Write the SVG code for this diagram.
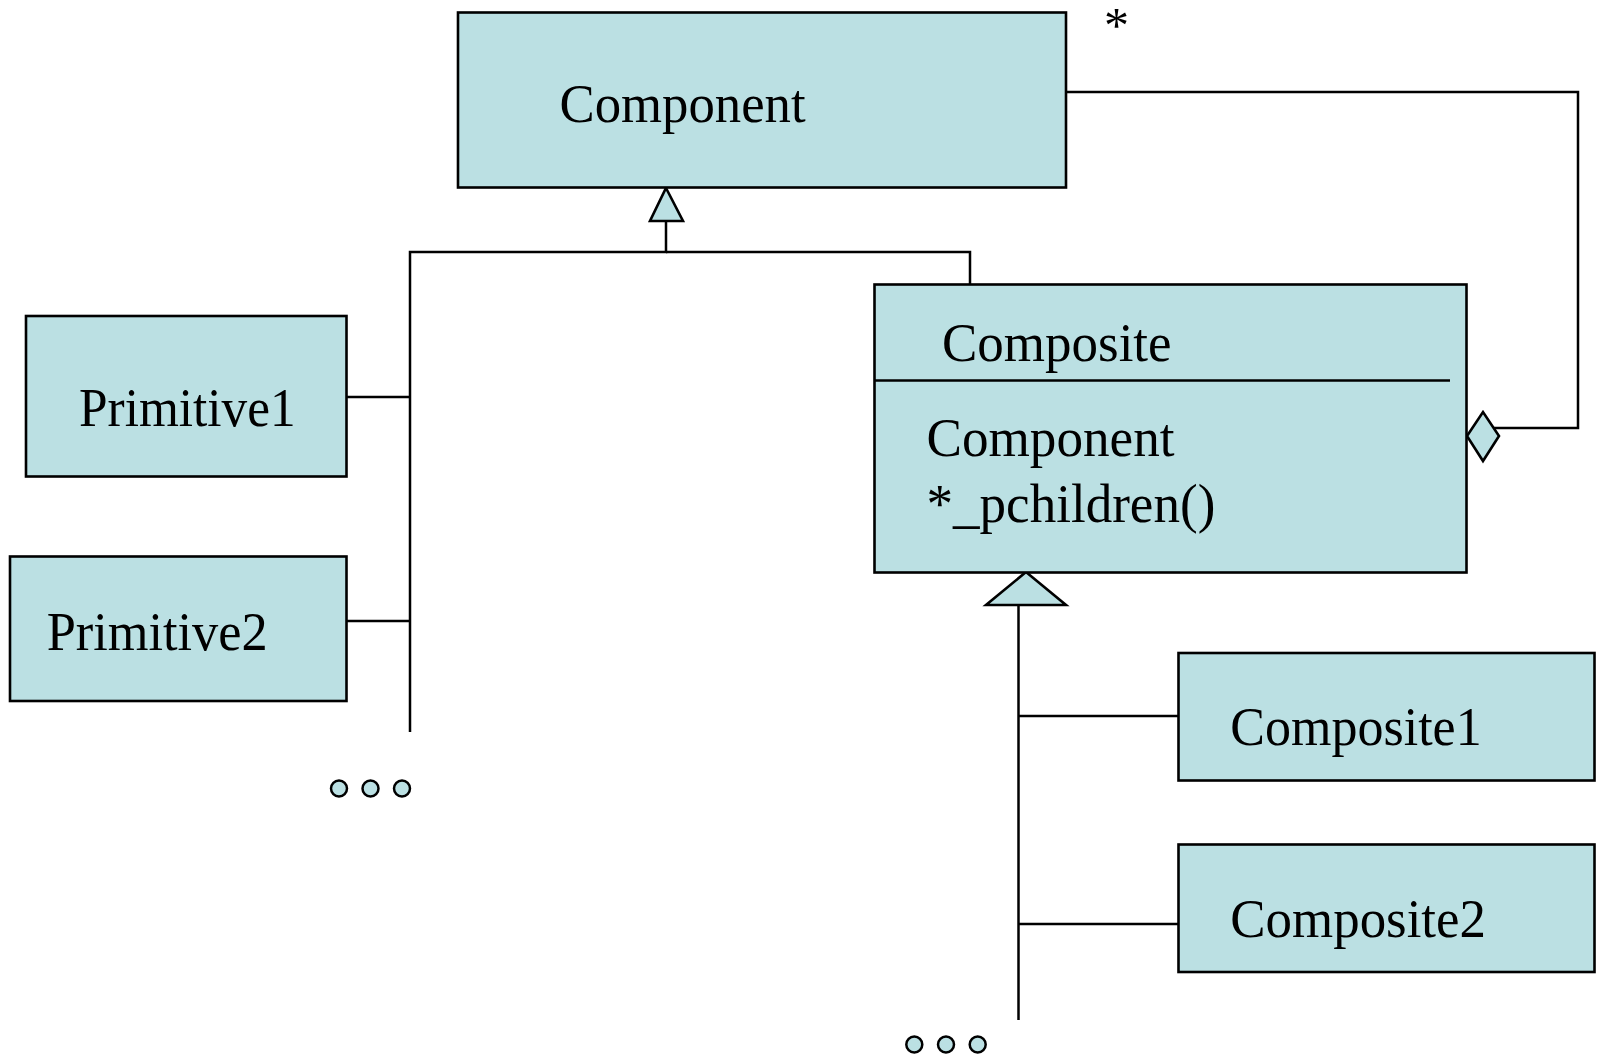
<svg xmlns="http://www.w3.org/2000/svg" width="1600" height="1054" viewBox="0 0 1600 1054">
<style>
.box{fill:#BBE0E3;stroke:#000;stroke-width:2.6}
.ln{fill:none;stroke:#000;stroke-width:2.5}
.t{font-family:"Liberation Serif","Times New Roman",serif;font-size:54px;fill:#000}
.dot{fill:#BBE0E3;stroke:#000;stroke-width:2.5}
</style>
<rect width="1600" height="1054" fill="#fff"/>
<g id="connectors">
<polyline class="ln" points="666,221 666,252 410,252 410,732"/>
<polyline class="ln" points="666,252 970,252 970,285"/>
<line class="ln" x1="346" y1="397" x2="410" y2="397"/>
<line class="ln" x1="346" y1="621" x2="410" y2="621"/>
<polygon class="box" points="666,188 683,221 650,221"/>
<polyline class="ln" points="1066,92 1578,92 1578,428 1494,428"/>
<polygon class="box" points="1467,436 1483,412 1499,436 1483,461"/>
<text class="t" x="1104" y="42" style="font-size:50px">*</text>
<line class="ln" x1="1018.5" y1="605" x2="1018.5" y2="1020"/>
<line class="ln" x1="1018.5" y1="716" x2="1178" y2="716"/>
<line class="ln" x1="1018.5" y1="924" x2="1178" y2="924"/>
<polygon class="box" points="1026,572 1066,605 986,605"/>
</g>
<g id="component">
<rect class="box" x="458" y="12.5" width="608" height="175"/>
<text class="t" x="559.6" y="121.7" textLength="246" lengthAdjust="spacingAndGlyphs">Component</text>
</g>
<g id="composite">
<rect class="box" x="874.5" y="284.5" width="592" height="288"/>
<line class="ln" x1="874.5" y1="380.5" x2="1450" y2="380.5"/>
<text class="t" x="942" y="361" textLength="229.6" lengthAdjust="spacingAndGlyphs">Composite</text>
<text class="t" x="926.5" y="456" textLength="248" lengthAdjust="spacingAndGlyphs">Component</text>
<text class="t" x="926.5" y="522" textLength="288.8" lengthAdjust="spacingAndGlyphs">*_pchildren()</text>
</g>
<g id="primitive1">
<rect class="box" x="26" y="316" width="320.5" height="160.5"/>
<text class="t" x="79" y="426" textLength="216.7" lengthAdjust="spacingAndGlyphs">Primitive1</text>
</g>
<g id="primitive2">
<rect class="box" x="10" y="556.5" width="336.5" height="144.5"/>
<text class="t" x="46.7" y="650" textLength="221" lengthAdjust="spacingAndGlyphs">Primitive2</text>
</g>
<g id="composite1">
<rect class="box" x="1178.5" y="653" width="416" height="127.5"/>
<text class="t" x="1230.3" y="745" textLength="251.4" lengthAdjust="spacingAndGlyphs">Composite1</text>
</g>
<g id="composite2">
<rect class="box" x="1178.5" y="844.5" width="416" height="127.5"/>
<text class="t" x="1230.3" y="937" textLength="255.7" lengthAdjust="spacingAndGlyphs">Composite2</text>
</g>
<g id="dots-left">
<ellipse class="dot" cx="339" cy="788.5" rx="8" ry="8"/>
<ellipse class="dot" cx="370.5" cy="788.5" rx="8" ry="8"/>
<ellipse class="dot" cx="402" cy="788.5" rx="8" ry="8"/>
</g>
<g id="dots-bottom">
<ellipse class="dot" cx="914.3" cy="1044.5" rx="8" ry="8"/>
<ellipse class="dot" cx="946" cy="1044.5" rx="8" ry="8"/>
<ellipse class="dot" cx="977.7" cy="1044.5" rx="8" ry="8"/>
</g>
</svg>
